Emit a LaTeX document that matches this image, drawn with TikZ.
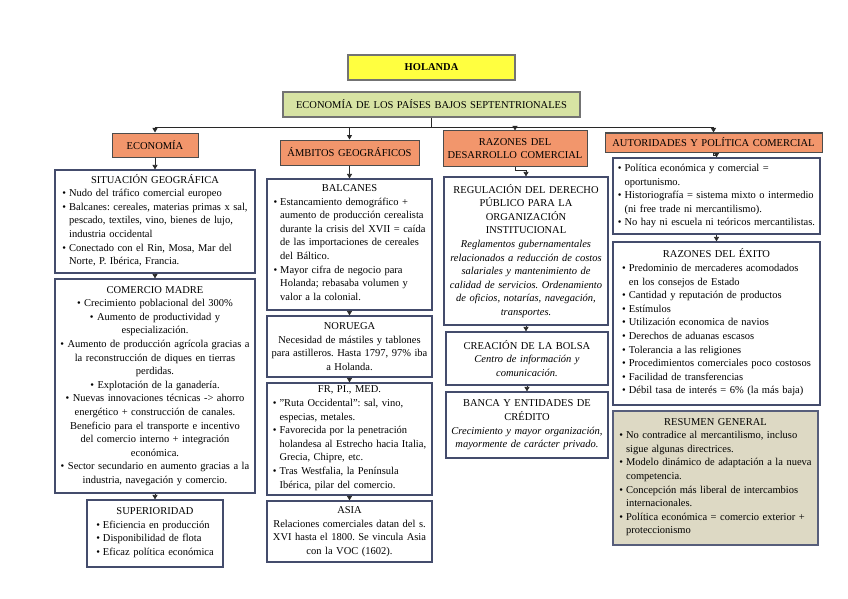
\documentclass[tikz,border=0pt]{standalone}
\usepackage{fontspec}
\setmainfont{Liberation Serif}
\usetikzlibrary{arrows.meta,shadows}
\definecolor{bxblue}{RGB}{68,76,108}
\definecolor{orng}{RGB}{242,150,108}
\definecolor{yel}{RGB}{255,255,64}
\definecolor{grn}{RGB}{215,227,163}
\definecolor{beig}{RGB}{221,217,196}
\definecolor{lnc}{RGB}{40,40,40}
\newcommand{\myfs}{\fontsize{10.5}{13.6}\selectfont\frenchspacing}
\newcommand{\bul}{\textbullet}
\tikzset{
  base/.style={font=\myfs, align=center, inner sep=2pt,
    drop shadow={shadow xshift=1pt,shadow yshift=-1pt,fill=black!22}},
  wbox/.style={base, draw=bxblue, line width=1.2pt, fill=white},
  obox/.style={base, draw=black!70, line width=1pt, fill=orng, inner sep=1pt},
  hbox/.style={base, draw=black!55, line width=1.3pt},
  rbox/.style={base, draw=bxblue!90, line width=1.2pt, fill=beig},
  bsz/.style n args={3}{minimum width=#1, minimum height=#2, text width=#3},
  ln/.style={draw=lnc, line width=0.8pt},
  arr/.style={ln, -{Triangle[length=4.5pt,width=5pt]}}
}
\begin{document}
\begin{tikzpicture}[x=1pt,y=-1pt]
\fill[white] (0,0) rectangle (848,599);
\useasboundingbox (0,0) rectangle (848,599);

% top
\node[hbox, fill=yel, bsz={167}{25}{160}, font=\myfs\bfseries] (hol) at (431.5,67.5) {HOLANDA};
\node[hbox, fill=grn, bsz={297}{25}{291}] (eco) at (431.5,104.5) {ECONOMÍA DE LOS PAÍSES BAJOS SEPTENTRIONALES};

% orange headers
\node[obox, bsz={86}{24}{82}] (econ) at (155,145) {ECONOMÍA};
\node[obox, bsz={139}{25}{135}] (amb) at (349.5,152.5) {ÁMBITOS GEOGRÁFICOS};
\node[obox, bsz={144}{35}{140}] (raz) at (515,148.5) {RAZONES DEL\\DESARROLLO COMERCIAL};
\node[obox, bsz={217}{19}{213}] (aut) at (713.5,142.5) {AUTORIDADES Y POLÍTICA COMERCIAL};

% column 1
\node[wbox, bsz={200}{103}{194}] (sit) at (155,221.5) {SITUACIÓN GEOGRÁFICA\\
\begin{tabular}[t]{@{}l@{\hspace{3pt}}l@{}}
\bul & Nudo del tráfico comercial europeo\\
\bul & Balcanes: cereales, materias primas x sal,\\
 & pescado, textiles, vino, bienes de lujo,\\
 & industria occidental\\
\bul & Conectado con el Rin, Mosa, Mar del\\
 & Norte, P. Ibérica, Francia.
\end{tabular}};

\node[wbox, bsz={200}{214}{194}] (com) at (155,386) {COMERCIO MADRE\\
\bul\ Crecimiento poblacional del 300\%\\
\bul\ Aumento de productividad y\\
especialización.\\
\bul\ Aumento de producción agrícola gracias a\\
la reconstrucción de diques en tierras\\
perdidas.\\
\bul\ Explotación de la ganadería.\\
\bul\ Nuevas innovaciones técnicas -> ahorro\\
energético + construcción de canales.\\
Beneficio para el transporte e incentivo\\
del comercio interno + integración\\
económica.\\
\bul\ Sector secundario en aumento gracias a la\\
industria, navegación y comercio.};

\node[wbox, bsz={136}{67}{130}] (sup) at (155,533.5) {SUPERIORIDAD\\
\begin{tabular}[t]{@{}l@{\hspace{3pt}}l@{}}
\bul & Eficiencia en producción\\
\bul & Disponibilidad de flota\\
\bul & Eficaz política económica
\end{tabular}};

% column 2
\node[wbox, bsz={165}{131}{159}] (bal) at (349.5,244.5) {BALCANES\\
\begin{tabular}[t]{@{}l@{\hspace{3pt}}l@{}}
\bul & Estancamiento demográfico +\\
 & aumento de producción cerealista\\
 & durante la crisis del XVII = caída\\
 & de las importaciones de cereales\\
 & del Báltico.\\
\bul & Mayor cifra de negocio para\\
 & Holanda; rebasaba volumen y\\
 & valor a la colonial.
\end{tabular}};

\node[wbox, bsz={165}{61}{159}] (nor) at (349.5,346.5) {NORUEGA\\
Necesidad de mástiles y tablones\\
para astilleros. Hasta 1797, 97\% iba\\
a Holanda.};

\node[wbox, bsz={165}{112}{159}] (fr) at (349.5,439) {FR, PI., MED.\\
\begin{tabular}[t]{@{}l@{\hspace{3pt}}l@{}}
\bul & "Ruta Occidental": sal, vino,\\
 & especias, metales.\\
\bul & Favorecida por la penetración\\
 & holandesa al Estrecho hacia Italia,\\
 & Grecia, Chipre, etc.\\
\bul & Tras Westfalia, la Península\\
 & Ibérica, pilar del comercio.
\end{tabular}};

\node[wbox, bsz={165}{61}{161}] (asia) at (349.5,531.5) {ASIA\\
Relaciones comerciales datan del s.\\
XVI hasta el 1800. Se vincula Asia\\
con la VOC (1602).};

% column 3
\node[wbox, bsz={164}{148}{160}] (reg) at (526,251) {REGULACIÓN DEL DERECHO\\
PÚBLICO PARA LA\\
ORGANIZACIÓN\\
INSTITUCIONAL\\
\itshape Reglamentos gubernamentales\\
relacionados a reducción de costos\\
salariales y mantenimiento de\\
calidad de servicios. Ordenamiento\\
de oficios, notarías, navegación,\\
transportes.};

\node[wbox, bsz={162}{53}{156}] (bolsa) at (527,358.5) {CREACIÓN DE LA BOLSA\\
\itshape Centro de información y\\
comunicación.};

\node[wbox, bsz={162}{66}{158}] (banca) at (527,425) {BANCA Y ENTIDADES DE\\
CRÉDITO\\
\itshape Crecimiento y mayor organización,\\
mayormente de carácter privado.};

% column 4
\node[wbox, bsz={207}{76}{201}] (autb) at (716.5,196) {%
\begin{tabular}[t]{@{}l@{\hspace{3pt}}l@{}}
\bul & Política económica y comercial =\\
 & oportunismo.\\
\bul & Historiografía = sistema mixto o intermedio\\
 & (ni free trade ni mercantilismo).\\
\bul & No hay ni escuela ni teóricos mercantilistas.
\end{tabular}};

\node[wbox, bsz={207}{163}{201}] (exito) at (716.5,323.5) {RAZONES DEL ÉXITO\\
\begin{tabular}[t]{@{}l@{\hspace{3pt}}l@{}}
\bul & Predominio de mercaderes acomodados\\
 & en los consejos de Estado\\
\bul & Cantidad y reputación de productos\\
\bul & Estímulos\\
\bul & Utilización economica de navios\\
\bul & Derechos de aduanas escasos\\
\bul & Tolerancia a las religiones\\
\bul & Procedimientos comerciales poco costosos\\
\bul & Facilidad de transferencias\\
\bul & Débil tasa de interés = 6\% (la más baja)
\end{tabular}};

\node[rbox, bsz={205}{134}{199}] (res) at (715.5,478) {RESUMEN GENERAL\\
\begin{tabular}[t]{@{}l@{\hspace{3pt}}l@{}}
\bul & No contradice al mercantilismo, incluso\\
 & sigue algunas directrices.\\
\bul & Modelo dinámico de adaptación a la nueva\\
 & competencia.\\
\bul & Concepción más liberal de intercambios\\
 & internacionales.\\
\bul & Política económica = comercio exterior +\\
 & proteccionismo
\end{tabular}};

% connectors
\coordinate (bus) at (0,127);
\draw[ln] (eco.south) -- (eco.south |- bus);
\draw[ln] (econ.north |- bus) -- (aut.north |- bus);
\draw[arr] (econ.north |- bus) -- (econ.north);
\draw[arr] (amb.north |- bus) -- (amb.north);
\draw[arr] (raz.north |- bus) -- (raz.north);
\draw[arr] (aut.north |- bus) -- (aut.north);

\draw[arr] (econ.south) -- (sit.north);
\draw[arr] (sit.south) -- (com.north);
\draw[arr] (com.south) -- (sup.north);

\draw[arr] (amb.south) -- (bal.north);
\draw[arr] (bal.south) -- (nor.north);
\draw[arr] (nor.south) -- (fr.north);
\draw[arr] (fr.south) -- (asia.north);

\draw[arr] (raz.south) -- ++(0,4) -| (reg.north);
\draw[arr] (reg.south) -- (reg.south |- bolsa.north);
\draw[arr] (bolsa.south) -- (banca.north);

\draw[arr] (aut.south) -- ++(0,3) -| (autb.north);
\draw[arr] (autb.south) -- (exito.north);
\end{tikzpicture}
\end{document}
